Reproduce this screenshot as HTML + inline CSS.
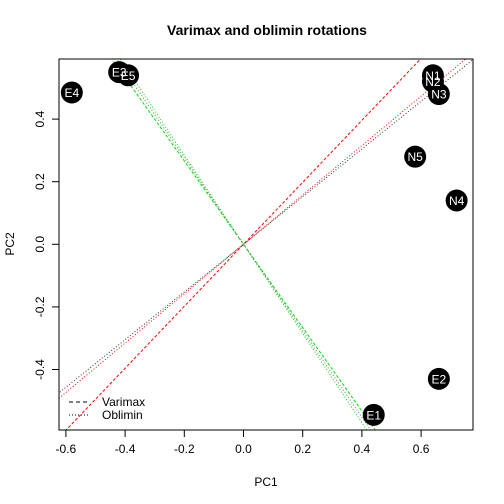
<!DOCTYPE html>
<html><head><meta charset="utf-8"><style>
html,body{margin:0;padding:0;width:504px;height:504px;overflow:hidden;background:#fff}
svg{font-family:"Liberation Sans",sans-serif;display:block}
</style></head><body>
<svg id="chart" width="504" height="504">
<text x="267" y="35" text-anchor="middle" font-size="14" font-weight="bold">Varimax and oblimin rotations</text>
<text x="266" y="486" text-anchor="middle" font-size="12">PC1</text>
<text transform="translate(14,244) rotate(-90)" text-anchor="middle" font-size="12">PC2</text>
<defs><clipPath id="clip"><rect x="59" y="59" width="414" height="371"/></clipPath></defs>
<g id="lines" clip-path="url(#clip)"></g>
<g id="axes"></g>
<g id="pts" clip-path="url(#clip)"></g>
<rect x="59" y="59" width="414" height="371" fill="none" stroke="#000"/>
<g>
<line x1="69" y1="402" x2="90" y2="402" stroke="#000" stroke-dasharray="4,3"/>
<text x="102" y="406" font-size="12">Varimax</text>
<line x1="69" y1="415" x2="90" y2="415" stroke="#000" stroke-dasharray="1,2"/>
<text x="102" y="419" font-size="12">Oblimin</text>
</g>
</svg>
<script>
const labels=["E4","E3","E5","N1","N2","N3","N5","N4","E2","E1"];
const pc1=[-0.58,-0.42,-0.39,0.64,0.64,0.66,0.58,0.72,0.66,0.44];
const pc2=[0.485,0.55,0.54,0.54,0.52,0.48,0.28,0.14,-0.43,-0.545];
const xTicks=[-0.6,-0.4,-0.2,0.0,0.2,0.4,0.6];
const yTicks=[-0.4,-0.2,0.0,0.2,0.4];
const lineDx=[0.6,0.753,0.767,-0.446,-0.417,-0.43];
const lineDy=[0.594,0.594,0.584,0.594,0.594,0.594];
const lineColor=["red","red","#333","#00dd00","#00dd00","#777"];
const lineDash=["3,2","1,2","1,2","3,2","1,2","1,2"];
const X=v=>243.5+v*296, Y=v=>244.3-v*313;
const NS="http://www.w3.org/2000/svg";
function mk(t,a,p){const e=document.createElementNS(NS,t);for(const k in a)e.setAttribute(k,a[k]);p.appendChild(e);return e;}
const ax=document.getElementById('axes');
xTicks.forEach(v=>{
 const l=mk('line',{x1:X(v),x2:X(v),y1:430,y2:437,stroke:'#000'},ax);
 
 
 const t=mk('text',{x:X(v),y:453,'text-anchor':'middle','font-size':12},ax);t.textContent=v.toFixed(1);
 
 
});
yTicks.forEach(v=>{
 const l=mk('line',{x1:52,x2:59,y1:Y(v),y2:Y(v),stroke:'#000'},ax);
 
 
 const t=mk('text',{transform:`translate(44,${Y(v)}) rotate(-90)`,'text-anchor':'middle','font-size':12},ax);t.textContent=v.toFixed(1);
 
 
});
const lg=document.getElementById('lines');
lineDx.forEach((dx,i)=>{
 const dy=lineDy[i],k=1.2;
 const l=mk('line',{x1:X(-dx*k),y1:Y(-dy*k),x2:X(dx*k),y2:Y(dy*k),stroke:lineColor[i],'stroke-dasharray':lineDash[i],'stroke-width':1},lg);
 
 
});
const pg=document.getElementById('pts');
labels.forEach((s,i)=>{
 const c=mk('circle',{cx:X(pc1[i]),cy:Y(pc2[i]),r:11,fill:'#000'},pg);
 
 
});
labels.forEach((s,i)=>{
 const t=mk('text',{x:X(pc1[i]),y:Y(pc2[i])+4.5,'text-anchor':'middle','font-size':12,fill:'#fff'},pg);t.textContent=s;
 
 
});
</script>
</body></html>
